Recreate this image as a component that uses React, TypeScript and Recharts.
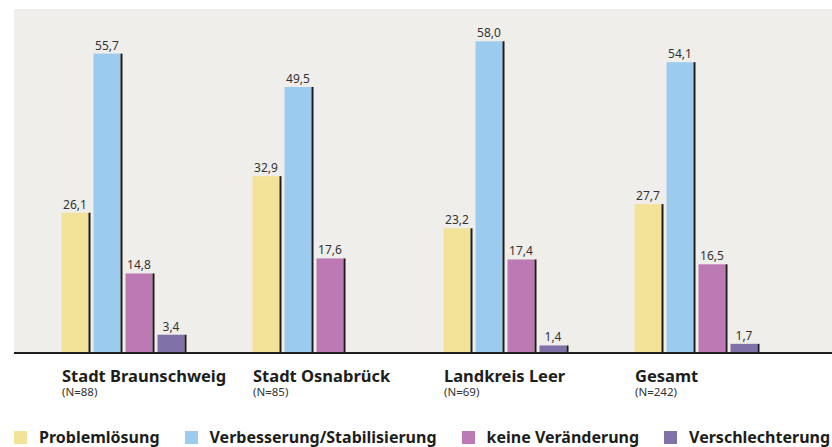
import { BarChart, Bar, XAxis, YAxis, CartesianGrid, LabelList, Legend } from "recharts"

const categories = ["Stadt Braunschweig", "Stadt Osnabrück", "Landkreis Leer", "Gesamt"]
const sampleSizes = ["(N=88)", "(N=85)", "(N=69)", "(N=242)"]
const problemloesung = [26.1, 32.9, 23.2, 27.7]
const verbesserung = [55.7, 49.5, 58.0, 54.1]
const keineVeraenderung = [14.8, 17.6, 17.4, 16.5]
const verschlechterung: (number | null)[] = [3.4, null, 1.4, 1.7]

const series = [
  { key: "problemloesung", name: "Problemlösung", color: "#f3e398" },
  { key: "verbesserung", name: "Verbesserung/Stabilisierung", color: "#9bcbee" },
  { key: "keineVeraenderung", name: "keine Veränderung", color: "#bc79b4" },
  { key: "verschlechterung", name: "Verschlechterung", color: "#8071a8" },
]

const data = categories.map((name, i) => ({
  name,
  problemloesung: problemloesung[i],
  verbesserung: verbesserung[i],
  keineVeraenderung: keineVeraenderung[i],
  verschlechterung: verschlechterung[i],
}))

const FONT = "'Noto Sans', 'Open Sans', sans-serif"

function ShadowBar(props: any) {
  const { x, y, width, height, fill } = props
  if (!height || height <= 0) return null
  return (
    <g>
      <rect x={x} y={y} width={width - 2} height={height} fill={fill} />
      <rect x={x + width - 2} y={y} width={2} height={height} fill="#1d1d1b" />
    </g>
  )
}

function ValueLabel(props: any) {
  const { x, y, width, value } = props
  if (value == null) return null
  return (
    <text x={x + (width - 2) / 2} y={y - 4} textAnchor="middle" fontSize={12} fill="#333" fontFamily={FONT}>
      {Number(value).toFixed(1).replace(".", ",")}
    </text>
  )
}

function CategoryTick(props: any) {
  const { x, y, payload, index } = props
  return (
    <g>
      <text x={x - 62} y={y + 21} fontSize={16.5} fontWeight="bold" fill="#1d1d1b" fontFamily={FONT}>
        {payload.value}
      </text>
      <text x={x - 62} y={y + 35} fontSize={11.5} fill="#333" fontFamily={FONT}>
        {sampleSizes[index]}
      </text>
    </g>
  )
}

function LegendContent() {
  return (
    <div style={{ display: "flex", alignItems: "center", gap: 25, paddingTop: 10, whiteSpace: "nowrap", fontFamily: FONT }}>
      {series.map((s) => (
        <div key={s.key} style={{ display: "flex", alignItems: "center", gap: 12 }}>
          <span style={{ width: 13, height: 13, background: s.color, display: "inline-block" }} />
          <span style={{ fontSize: 16, fontWeight: "bold", color: "#1d1d1b", lineHeight: "20px" }}>{s.name}</span>
        </div>
      ))}
    </div>
  )
}

export default function App() {
  return (
    <div style={{ position: "absolute", left: 0, top: 0, width: 832, height: 447, background: "#fff", overflow: "hidden" }}>
      <BarChart
        width={832}
        height={447}
        data={data}
        margin={{ top: 9, right: 0, left: 14, bottom: 0 }}
        barSize={29}
        barGap={3}
      >
        <CartesianGrid horizontal={false} vertical={false} fill="#efeeeb" />
        <XAxis
          dataKey="name"
          height={64}
          padding={{ left: 14.5, right: 39.5 }}
          axisLine={{ stroke: "#1d1d1b", strokeWidth: 2 }}
          tickLine={false}
          tick={<CategoryTick />}
          interval={0}
        />
        <YAxis hide domain={[0, 64]} />
        <Legend verticalAlign="bottom" align="left" height={30} content={<LegendContent />} />
        {series.map((s) => (
          <Bar key={s.key} dataKey={s.key} name={s.name} fill={s.color} shape={<ShadowBar />} isAnimationActive={false}>
            <LabelList dataKey={s.key} content={<ValueLabel />} />
          </Bar>
        ))}
      </BarChart>
    </div>
  )
}
